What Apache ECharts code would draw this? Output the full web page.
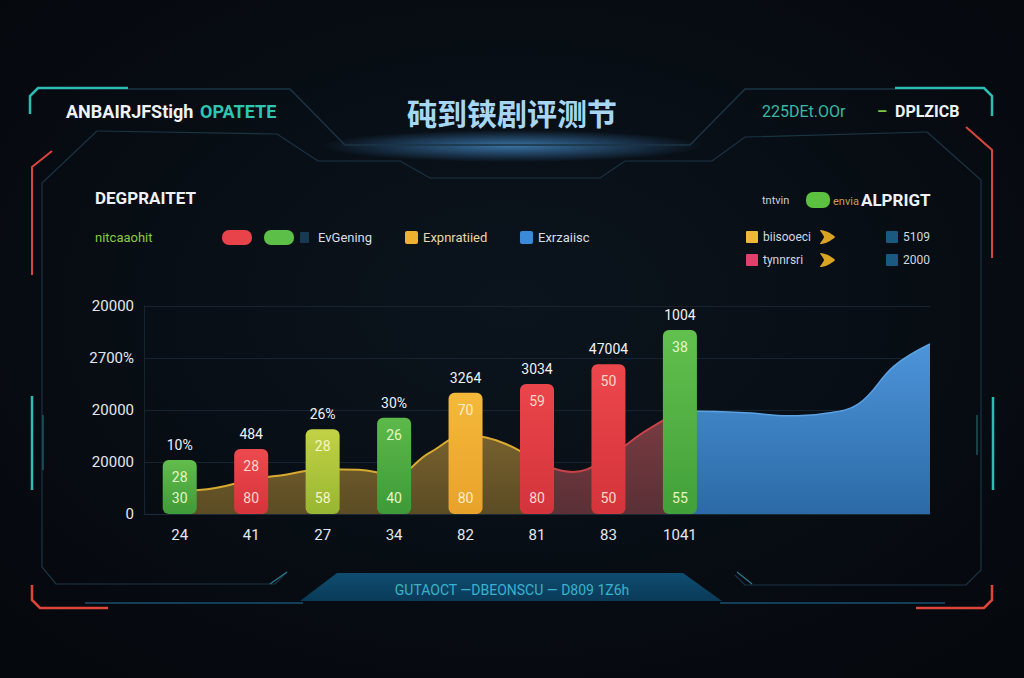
<!DOCTYPE html>
<html>
<head>
<meta charset="utf-8">
<script src="https://cdn.jsdelivr.net/npm/echarts@6/dist/echarts.min.js"></script>
<style>
html,body{margin:0;padding:0;background:#060a10;}
#c{width:1024px;height:678px;}
</style>
</head>
<body>
<div id="c"></div>
<script>
// ---- data ----
var categories = ['24','41','27','34','82','81','83','1041','','',''];
var barValues = [1.04, 1.25, 1.63, 1.85, 2.33, 2.5, 2.88, 3.54];
var barTopLabels = ['10%','484','26%','30%','3264','3034','47004','1004'];
var barInnerTop = ['28','28','28','26','70','59','50','38'];
var barInnerBottom = ['30','80','58','40','80','80','50','55'];
var yTickLabels = ['0','20000','20000','2700%','20000'];
// area curve sampled at category centres and midpoints (23 points)
var areaYellow = [null,0.44,0.50,0.66,0.76,0.86,0.85,0.76,1.18,1.50,1.38,1.00,null,null,null,null,null,null,null,null,null,null,null];
var areaRed    = [null,null,null,null,null,null,null,null,null,null,null,1.00,0.81,1.10,1.58,1.98,null,null,null,null,null,null,null];
var areaBlue   = [null,null,null,null,null,null,null,null,null,null,null,null,null,null,null,1.98,1.97,1.94,1.89,1.93,2.12,2.85,3.27];
var areaIndex = []; for (var i = 0; i < areaYellow.length; i++) areaIndex.push(String(i));

// ---- styles ----
var barColors = [
  ['#62bd4c','#3f9a38'],['#ec4a4e','#d6343c'],['#c2d244','#98b632'],['#5cb94a','#3e9a38'],
  ['#f5b93a','#e8a22a'],['#ea454b','#d3343b'],['#ec474c','#d4343b'],['#62c04e','#42a03a']
];
var innerColors = ['#e4f7c8','#ffd6cc','#f4f6c8','#e4f7c8','#fff0c8','#ffd6cc','#ffd6cc','#e4f7c8'];

function grad(c){return new echarts.graphic.LinearGradient(0,0,0,1,[{offset:0,color:c[0]},{offset:1,color:c[1]}]);}

var chart = echarts.init(document.getElementById('c'), null, {renderer:'svg'});
var FONT = 'Roboto, "DejaVu Sans", sans-serif';

var mainData = barValues.map(function(v,i){
  return {value:v, itemStyle:{color:grad(barColors[i]), borderRadius:6},
    label:{formatter:barTopLabels[i]}};
});
var innerTopData = barValues.map(function(v,i){
  return {value:v, label:{formatter:barInnerTop[i], color:innerColors[i]}};
});
var innerBotData = barValues.map(function(v,i){
  return {value:v, label:{formatter:barInnerBottom[i], color:innerColors[i]}};
});

var dim = '#1b3444';
function line(points, color, width, extra){
  var o = {type:'polyline', silent:true, z:1, shape:{points:points}, style:{stroke:color, lineWidth:width||1.5, fill:null}};
  if (extra) { for (var k in extra) o.style[k]=extra[k]; }
  return o;
}
function txt(x,y,t,size,color,weight,align,family){
  return {type:'text', x:x, y:y, z:5, silent:true, style:{text:t, fontSize:size, fill:color,
    fontWeight:weight||'normal', align:align||'left', verticalAlign:'middle', fontFamily:family||FONT}};
}
function rect(x,y,w,h,r,color){
  return {type:'rect', z:5, silent:true, shape:{x:x,y:y,width:w,height:h,r:r}, style:{fill:color}};
}
function arrow(x,y){
  return {type:'polygon', x:x, y:y, z:5, silent:true,
    shape:{points:[[0,-7],[7,-5.5],[15,0],[7,5.5],[0,7],[4,0]], smooth:0.2}, style:{fill:'#d9a324'}};
}

var graphics = [
  // background glow
  {type:'rect', z:0, silent:true, shape:{x:0,y:0,width:1024,height:678},
    style:{fill:new echarts.graphic.RadialGradient(0.5,0.45,0.7,[{offset:0,color:'#0b141d'},{offset:1,color:'#05080d'}])}},
  {type:'ellipse', z:0, silent:true, shape:{cx:512,cy:146,rx:190,ry:16},
    style:{fill:new echarts.graphic.RadialGradient(0.5,0.5,0.5,[{offset:0,color:'rgba(90,180,255,0.6)'},{offset:1,color:'rgba(80,170,255,0)'}])}},
  // top frame
  line([[30,114],[30,96],[38,88],[128,88]], '#2cbcb4', 2.5),
  line([[128,89],[290,89],[345,145],[690,145],[745,89],[895,89]], dim, 1.5),
  line([[430,145],[600,145]], '#6cc8ff', 2, {shadowBlur:10, shadowColor:'#3aa0ff'}),
  line([[895,88],[984,88],[992,96],[992,116]], '#2cbcb4', 2.5),
  line([[97,131],[277,134],[318,161],[400,161],[430,178],[600,178],[625,161],[712,161],[745,137],[927,132]], dim, 1.2),
  // inner sides
  line([[97,131],[42,183],[42,567],[56,584],[275,584],[287,572]], dim, 1.2),
  line([[927,132],[981,180],[981,570],[966,585],[745,585],[735,575]], dim, 1.2),
  // red brackets
  line([[52,151],[32,167],[32,275]], '#d8453a', 2),
  line([[966,127],[992,150],[992,258]], '#d8453a', 2),
  line([[32,585],[32,600],[40,608],[108,608]], '#e0453a', 2.5),
  line([[992,585],[992,600],[984,608],[916,608]], '#e0453a', 2.5),
  // teal side bars
  line([[32,396],[32,490]], '#2cbcb4', 2.5),
  line([[43,415],[43,470]], '#1e6a70', 1.2),
  line([[993,397],[993,490]], '#2cbcb4', 2.5),
  line([[977,415],[977,455]], '#1e6a70', 1.2),
  // bottom bar
  line([[85,603],[303,603]], '#123e58', 2),
  line([[720,603],[945,603]], '#123e58', 2),
  {type:'polygon', z:2, silent:true, shape:{points:[[337,573],[683,573],[722,601],[300,601]]},
    style:{fill:new echarts.graphic.LinearGradient(0,0,0,1,[{offset:0,color:'#0f4d70'},{offset:1,color:'#0a3a58'}])}},
  line([[270,584],[287,572]], '#2a7a90', 1.2),
  line([[737,572],[752,584]], '#2a7a90', 1.2),
  txt(512,590,'GUTAOCT —DBEONSCU — D809 1Z6h',14,'#3ab2cc','normal','center'),
  // header texts
  txt(66,111,'ANBAIRJFStigh',18,'#eef2f6','bold'),
  txt(200,111,'OPATETE',18,'#2ec6b2','bold'),
  {type:'text', x:512, y:112, z:5, silent:true, style:{text:'砘到铗剧评测节', fontSize:30, fontWeight:'bold',
    fill:'#a6d6f2', shadowBlur:8, shadowColor:'rgba(80,170,240,0.6)',
    align:'center', verticalAlign:'middle', fontFamily:'"Noto Sans CJK SC", sans-serif'}},
  txt(762,111,'225DEt.OOr',16,'#38baa2'),
  txt(877,111,'–',16,'#7ac943','bold'),
  txt(895,111,'DPLZICB',16,'#eef2f6','bold'),
  // left legend block
  txt(95,198,'DEGPRAITET',17,'#eef2f6','bold'),
  txt(95,237,'nitcaaohit',13,'#8acb3a'),
  rect(222,230,30,15,7,'#e8434a'),
  rect(264,230,30,15,7,'#5cbf48'),
  rect(300,232,9,11,1,'#173a52'),
  txt(318,237,'EvGening',13,'#d8dee6'),
  rect(405,231,13,13,2,'#f0b030'),
  txt(423,237,'Expnratiied',13,'#ecd7a8'),
  rect(520,231,13,13,2,'#3a8ad8'),
  txt(538,237,'Exrzaiisc',13,'#d8dee6'),
  // right legend block
  txt(762,200,'tntvin',11,'#c8d0d8'),
  rect(806,192,24,16,7,'#5cc040'),
  txt(833,201,'envia',11,'#c0a050'),
  txt(861,200,'ALPRIGT',17,'#eef2f6','bold'),
  rect(746,231,12,12,1,'#f0b838'),
  txt(763,237,'biisooeci',12,'#d0d8e0'),
  arrow(820,237),
  rect(886,231,12,12,1,'#1a5a80'),
  txt(903,237,'5109',12,'#d0d8e0'),
  rect(746,254,12,12,1,'#e0406a'),
  txt(763,260,'tynnrsri',12,'#d0d8e0'),
  arrow(820,260),
  rect(886,254,12,12,1,'#1a5a80'),
  txt(903,260,'2000',12,'#d0d8e0')
];

var option = {
  backgroundColor:'#060a10',
  animation:false,
  graphic: graphics,
  grid:{left:144, right:94, top:306, bottom:164, show:false},
  xAxis:[
    {type:'category', data:categories, boundaryGap:true,
     axisLine:{show:true, lineStyle:{color:'#1b2b3a'}}, axisTick:{show:false},
     axisLabel:{color:'#e2e8ee', fontSize:15, margin:13, fontFamily:FONT}},
    {type:'category', data:areaIndex, boundaryGap:false, show:false}
  ],
  yAxis:{type:'value', min:0, max:4, interval:1,
    axisLine:{show:true, lineStyle:{color:'#17242f'}}, axisTick:{show:false},
    splitLine:{lineStyle:{color:'#17242f', width:1}},
    axisLabel:{color:'#e2e8ee', fontSize:15, margin:10, fontFamily:FONT,
      formatter:function(v){return yTickLabels[Math.round(v)];}}},
  series:[
    {type:'line', xAxisIndex:1, data:areaYellow, smooth:0.45, symbol:'none', z:2,
     lineStyle:{color:'#d9aa30', width:2},
     areaStyle:{color:new echarts.graphic.LinearGradient(0,0,0,1,[{offset:0,color:'#76602e'},{offset:1,color:'#5c4c24'}]), opacity:1}},
    {type:'line', xAxisIndex:1, data:areaRed, smooth:0.45, symbol:'none', z:2,
     lineStyle:{color:'#c8424a', width:2},
     areaStyle:{color:new echarts.graphic.LinearGradient(0,0,0,1,[{offset:0,color:'#7a3c42'},{offset:1,color:'#5a3036'}]), opacity:1}},
    {type:'line', xAxisIndex:1, data:areaBlue, smooth:0.4, symbol:'none', z:2,
     lineStyle:{color:'#5aa2e2', width:1.5},
     areaStyle:{color:new echarts.graphic.LinearGradient(0,0,0,1,[{offset:0,color:'#4d94da'},{offset:1,color:'#2b6aa6'}]), opacity:1}},
    {type:'bar', xAxisIndex:0, data:mainData, barWidth:34, barGap:'-100%', z:3,
     label:{show:true, position:'top', distance:8, color:'#eef2f6', fontSize:14, fontFamily:FONT}},
    {type:'bar', xAxisIndex:0, data:innerTopData, barWidth:34, barGap:'-100%', z:4,
     itemStyle:{color:'rgba(0,0,0,0)'},
     label:{show:true, position:'insideTop', distance:10, fontSize:14, fontFamily:FONT}},
    {type:'bar', xAxisIndex:0, data:innerBotData, barWidth:34, barGap:'-100%', z:4,
     itemStyle:{color:'rgba(0,0,0,0)'},
     label:{show:true, position:'insideBottom', distance:9, fontSize:14, fontFamily:FONT}}
  ]
};
chart.setOption(option);
</script>
</body>
</html>
